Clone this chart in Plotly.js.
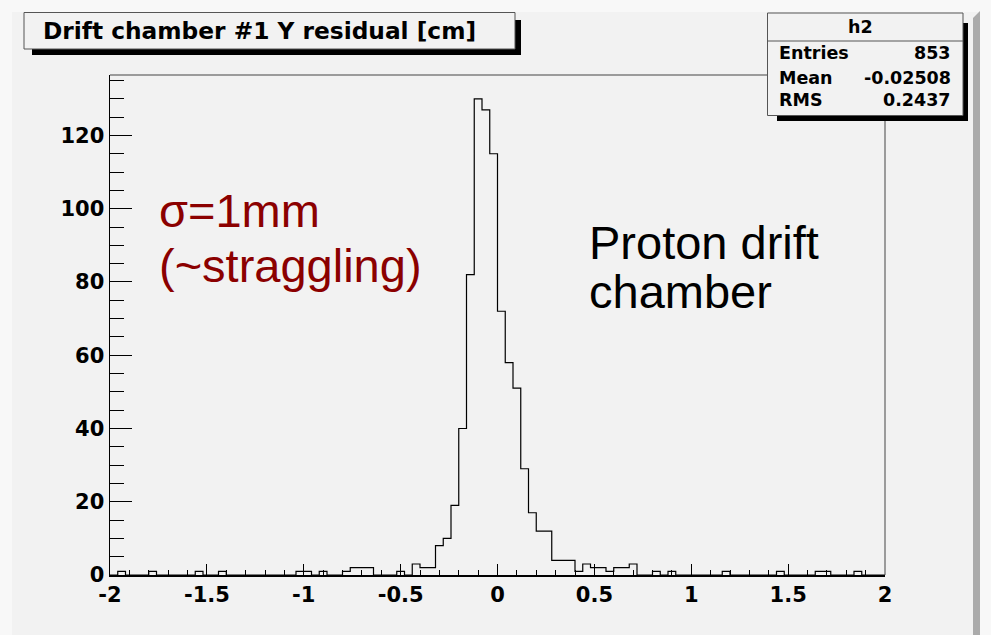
<!DOCTYPE html>
<html>
<head>
<meta charset="utf-8">
<script src="https://cdn.plot.ly/plotly-3.0.1.min.js"></script>
<style>
html,body{margin:0;padding:0;background:#f2f2f2;overflow:hidden;}
#chart{width:991px;height:635px;}
</style>
</head>
<body>
<div id="chart"></div>
<script>
// ---------------- data ----------------
const histName = "h2";
const titleText = "Drift chamber #1 Y residual [cm]";
const xMin = -2;
const xMax = 2;
const binWidth = 0.04;
// 100 bins from -2 to 2
const counts = [
  0, 1, 0, 0, 0, 1, 0, 0, 0, 0,
  0, 1, 0, 0, 1, 0, 0, 0, 0, 0,
  0, 0, 0, 0, 1, 1, 0, 1, 0, 0,
  1, 2, 2, 2, 0, 0, 0, 1, 0, 3,
  2, 2, 8, 10, 19, 40, 82, 130, 127, 115,
  72, 58, 51, 29, 17, 12, 12, 4, 4, 4,
  1, 3, 2, 2, 1, 2, 2, 3, 0, 0,
  1, 0, 1, 0, 0, 0, 0, 0, 0, 1,
  0, 0, 0, 0, 0, 0, 1, 0, 0, 0,
  0, 1, 1, 0, 0, 0, 1, 0, 0, 0
];
const statLabels = ["Entries", "Mean", "RMS"];
const statValues = ["853", "-0.02508", "0.2437"];
const xTickVals = [-2, -1.5, -1, -0.5, 0, 0.5, 1, 1.5, 2];
const xTickText = ["-2", "-1.5", "-1", "-0.5", "0", "0.5", "1", "1.5", "2"];
const yTickVals = [0, 20, 40, 60, 80, 100, 120];
const yTickText = ["0", "20", "40", "60", "80", "100", "120"];
const noteRed = ["σ=1mm", "(~straggling)"];
const noteBlack = ["Proton drift", "chamber"];

// ---------------- build step outline ----------------
const stepX = [xMin];
const stepY = [0];
for (let i = 0; i < counts.length; i++) {
  stepX.push(xMin + i * binWidth);
  stepY.push(counts[i]);
}
stepX.push(xMax);
stepY.push(0);

// ---------------- layout geometry (pixels) ----------------
const W = 991, H = 635;
const L = 110, R = 885, T = 75, B = 575;
const px = x => (x - L) / (R - L);
const py = y => (B - y) / (B - T);

const rootFont = "DejaVu Sans, Liberation Sans, Arial, sans-serif";
const noteFont = "Liberation Sans, Arial, Helvetica, sans-serif";

function rect(x0, y0, x1, y1, fill, lineColor, lw, layer) {
  return {
    type: "rect", xref: "paper", yref: "paper",
    x0: px(x0), x1: px(x1), y0: py(y1), y1: py(y0),
    fillcolor: fill,
    line: {color: lineColor || fill, width: lw === undefined ? 0 : lw},
    layer: layer || "above"
  };
}
function pathShape(pts, fill, layer) {
  let d = "";
  pts.forEach((p, i) => { d += (i ? " L" : "M") + px(p[0]) + "," + py(p[1]); });
  d += " Z";
  return {type: "path", xref: "paper", yref: "paper", path: d,
          fillcolor: fill, line: {width: 0}, layer: layer || "above"};
}
function line(x0, y0, x1, y1, color, w) {
  return {type: "line", xref: "paper", yref: "paper",
          x0: px(x0), x1: px(x1), y0: py(y0), y1: py(y1),
          line: {color: color, width: w}};
}

const shapes = [
  // canvas bevel
  rect(0, 0, W, 12, "#f8f8f8", null, 0, "below"),
  rect(0, 0, 12, H, "#f8f8f8", null, 0, "below"),
  rect(980, 0, W, H, "#f8f8f8", null, 0, "below"),
  pathShape([[973, 18], [980, 11], [980, H], [973, H]], "#ababab", "below"),
  // frame top & right
  line(L, T, R, T, "#444444", 1),
  line(R, T, R, B, "#444444", 1),
  // title box
  rect(32, 20, 521, 55, "#000000"),
  rect(24, 12.5, 515, 49, "#f2f2f2", "#555555", 1),
  // stats box
  rect(777, 23, 968, 121, "#000000"),
  rect(767.5, 13, 963, 115.5, "#f2f2f2", "#555555", 1),
  line(767.5, 41, 963, 41, "#555555", 1)
];

const annotations = [];
function addText(text, x, y, xanchor, size, color, family, weight) {
  annotations.push({
    xref: "paper", yref: "paper", x: px(x), y: py(y),
    xanchor: xanchor, yanchor: "middle", showarrow: false, text: text,
    font: {family: family, size: size, color: color, weight: weight}
  });
}
addText(titleText, 41, 31, "left", 23.3, "#000000", rootFont, "bold");
addText(histName, 860, 27, "center", 17.5, "#000000", rootFont, "bold");
const rowsY = [53, 78, 100];
statLabels.forEach((s, i) => addText(s, 777, rowsY[i], "left", 17.5, "#000000", rootFont, "bold"));
statValues.forEach((s, i) => addText(s, 953, rowsY[i], "right", 17.5, "#000000", rootFont, "bold"));
addText(noteRed[0], 157, 210, "left", 47, "#8b0000", noteFont, "normal");
addText(noteRed[1], 157, 265, "left", 47, "#8b0000", noteFont, "normal");
addText(noteBlack[0], 587, 243, "left", 47, "#000000", noteFont, "normal");
addText(noteBlack[1], 587, 291, "left", 47, "#000000", noteFont, "normal");

const trace = {
  type: "scatter", mode: "lines", x: stepX, y: stepY,
  line: {shape: "hv", color: "#000000", width: 1.2},
  hoverinfo: "skip", showlegend: false
};

const tickFont = {family: rootFont, size: 21, color: "#000000", weight: "bold"};

const layout = {
  width: W, height: H, autosize: false,
  margin: {l: L, r: W - R, t: T, b: H - B, pad: 0},
  paper_bgcolor: "#f2f2f2",
  plot_bgcolor: "rgba(0,0,0,0)",
  showlegend: false,
  xaxis: {
    range: [xMin, xMax], tickmode: "array", tickvals: xTickVals, ticktext: xTickText,
    ticks: "inside", ticklen: 11, tickwidth: 1, tickcolor: "#000000",
    showline: true, linecolor: "#000000", linewidth: 1.5,
    showgrid: false, zeroline: false, fixedrange: true,
    tickfont: tickFont,
    minor: {tickmode: "linear", tick0: -2, dtick: 0.1, ticks: "inside", ticklen: 5,
            tickwidth: 1, tickcolor: "#000000", showgrid: false}
  },
  yaxis: {
    range: [0, 136.5], tickmode: "array", tickvals: yTickVals, ticktext: yTickText,
    ticks: "inside", ticklen: 22, tickwidth: 1, tickcolor: "#000000",
    showline: true, linecolor: "#000000", linewidth: 1.5,
    showgrid: false, zeroline: false, fixedrange: true,
    tickfont: tickFont,
    minor: {tickmode: "linear", tick0: 0, dtick: 5, ticks: "inside", ticklen: 14,
            tickwidth: 1, tickcolor: "#000000", showgrid: false}
  },
  shapes: shapes,
  annotations: annotations
};

Plotly.newPlot("chart", [trace], layout, {staticPlot: true, displayModeBar: false});
</script>
</body>
</html>
